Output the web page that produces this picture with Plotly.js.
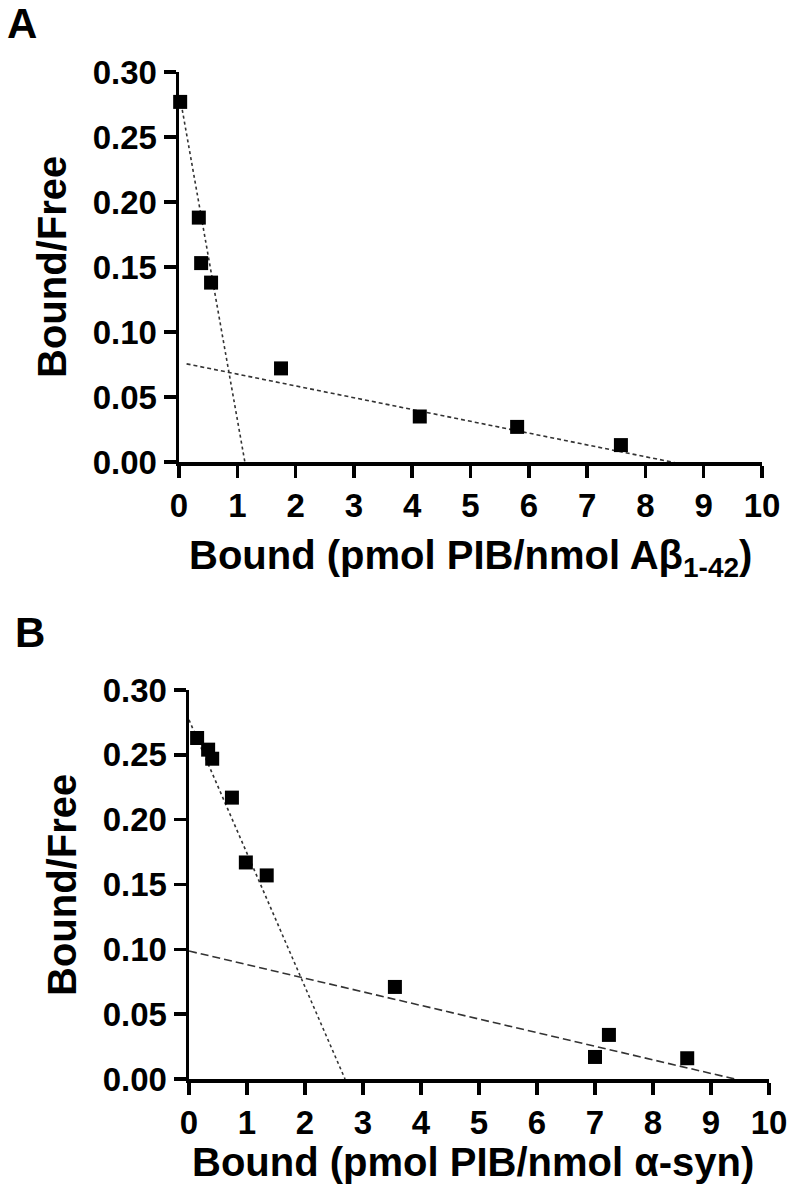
<!DOCTYPE html>
<html>
<head>
<meta charset="utf-8">
<script src="https://cdn.plot.ly/plotly-3.0.1.min.js"></script>
<style>
  body { margin: 0; background: #fff; }
  #chart { width: 790px; height: 1199px; }
</style>
</head>
<body>
<div id="chart"></div>
<script>
// Panel A - Abeta(1-42)
let aBound = [0.02, 0.34, 0.38, 0.55, 1.75, 4.13, 5.80, 7.58];
let aRatio = [0.277, 0.188, 0.153, 0.138, 0.072, 0.035, 0.027, 0.013];
// fitted lines (end points)
let aFit1X = [0.02, 1.13];
let aFit1Y = [0.280, 0.0];
let aFit2X = [0.13, 9.0];
let aFit2Y = [0.0755, -0.005];

// Panel B - alpha-synuclein
let bBound = [0.14, 0.33, 0.40, 0.74, 0.98, 1.34, 3.55, 7.00, 7.24, 8.59];
let bRatio = [0.263, 0.254, 0.247, 0.217, 0.167, 0.157, 0.071, 0.017, 0.034, 0.016];
let bFit1X = [0.0, 2.69];
let bFit1Y = [0.277, 0.0];
let bFit2X = [0.0, 9.79];
let bFit2Y = [0.0987, -0.004];

let xTicks = [0, 1, 2, 3, 4, 5, 6, 7, 8, 9, 10];
let yTicks = [0, 0.05, 0.10, 0.15, 0.20, 0.25, 0.30];

const W = 790, H = 1199;
const FONT = 'Liberation Sans, Arial, sans-serif';

function pts(x, y, xa, ya) {
  return {
    x: x, y: y, xaxis: xa, yaxis: ya,
    mode: 'markers', type: 'scatter', cliponaxis: false,
    marker: { symbol: 'square', size: 14, color: 'black' }
  };
}
function fit(x, y, xa, ya, dash) {
  return {
    x: x, y: y, xaxis: xa, yaxis: ya,
    mode: 'lines', type: 'scatter',
    line: { color: '#333', width: 1.6, dash: dash }
  };
}

let traces = [
  fit(aFit1X, aFit1Y, 'x', 'y', '3px,3px'),
  fit(aFit2X, aFit2Y, 'x', 'y', '4px,3px'),
  pts(aBound, aRatio, 'x', 'y'),
  fit(bFit1X, bFit1Y, 'x2', 'y2', '3px,3px'),
  fit(bFit2X, bFit2Y, 'x2', 'y2', '8px,4px'),
  pts(bBound, bRatio, 'x2', 'y2')
];

function xAxis(l, r, anchor) {
  return {
    domain: [l / W, r / W], anchor: anchor,
    range: [0, 10], tickvals: xTicks, ticktext: xTicks.map(String),
    showline: true, linewidth: 3.5, linecolor: 'black',
    ticks: 'outside', ticklen: 12, tickwidth: 3.5, tickcolor: 'black',
    showgrid: false, zeroline: false,
    tickfont: { family: FONT, size: 33, weight: 'bold', color: 'black' }
  };
}
function yAxis(top, bottom, anchor) {
  return {
    domain: [1 - bottom / H, 1 - top / H], anchor: anchor,
    range: [0, 0.30], tickvals: yTicks, tickformat: '.2f',
    showline: true, linewidth: 3.5, linecolor: 'black',
    ticks: 'outside', ticklen: 12, tickwidth: 3.5, tickcolor: 'black',
    showgrid: false, zeroline: false,
    tickfont: { family: FONT, size: 33, weight: 'bold', color: 'black' }
  };
}

function label(text, x, y, size, angle) {
  return {
    text: text, xref: 'paper', yref: 'paper',
    x: x / W, y: 1 - y / H, xanchor: 'center', yanchor: 'middle',
    showarrow: false, textangle: angle || 0,
    font: { family: FONT, size: size, weight: 'bold', color: 'black' }
  };
}

let layout = {
  width: W, height: H,
  margin: { l: 0, r: 0, t: 0, b: 0 },
  paper_bgcolor: 'white', plot_bgcolor: 'white',
  showlegend: false,
  xaxis: xAxis(179, 762, 'y'),
  yaxis: yAxis(72, 462, 'x'),
  xaxis2: xAxis(189, 769, 'y2'),
  yaxis2: yAxis(690, 1079, 'x2'),
  annotations: [
    label('A', 22, 24, 42),
    label('B', 30, 632, 42),
    label('Bound (pmol PIB/nmol A\u03b2<sub>1-42</sub>)', 471, 558, 40),
    label('Bound/Free', 52, 267, 40, -90),
    label('Bound (pmol PIB/nmol \u03b1-syn)', 473, 1162, 40),
    label('Bound/Free', 62, 885, 40, -90)
  ]
};

Plotly.newPlot('chart', traces, layout, { staticPlot: true });
</script>
</body>
</html>
